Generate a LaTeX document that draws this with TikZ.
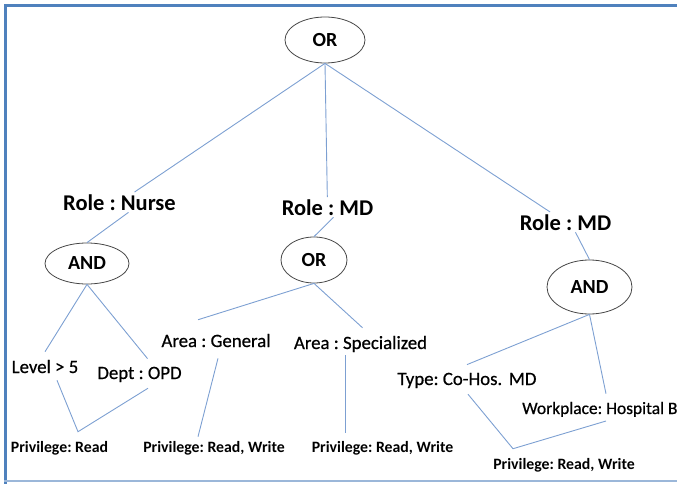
\documentclass[tikz,border=0pt]{standalone}
\usepackage{fontspec}
\setmainfont{Carlito}
\newfontfamily\attrfont[FakeBold=0.6]{Carlito}
\usetikzlibrary{shapes.geometric}
\definecolor{edgeblue}{RGB}{125,160,210}
\definecolor{frameblue}{RGB}{79,129,189}
\definecolor{framelight}{RGB}{155,183,217}
\definecolor{ovalline}{RGB}{70,70,70}
\frenchspacing
\begin{document}
\begin{tikzpicture}[x=1pt,y=-1pt,
  gate/.style={ellipse, draw=ovalline, line width=0.8pt, inner sep=0pt,
    font=\fontsize{20}{20}\selectfont\bfseries},
  role/.style={anchor=base, inner sep=2pt, font=\fontsize{22.5}{24}\selectfont\bfseries},
  attr/.style={anchor=base, inner sep=2pt, font=\attrfont\fontsize{18.8}{20}\selectfont},
  priv/.style={anchor=base, inner sep=2pt, font=\fontsize{15.8}{16}\selectfont\bfseries},
  link/.style={draw=edgeblue, line width=0.9pt},
]
\useasboundingbox (0,0) rectangle (677,484);
\clip (0,0) rectangle (677,484);

% outer frame
\draw[frameblue, line width=2.8pt] (5.5,484) -- (5.5,5.5) -- (690,5.5);
\draw[framelight, line width=1.5pt] (4,481) -- (690,481);

% gates
\node[gate, minimum width=80pt, minimum height=46pt] (or1) at (325,40) {OR};
\node[gate, minimum width=84pt, minimum height=41pt] (and1) at (87,263.5) {AND};
\node[gate, minimum width=66pt, minimum height=46pt] (or2) at (314,260) {OR};
\node[gate, minimum width=85pt, minimum height=54pt] (and2) at (589.5,287) {AND};

% roles
\node[role] (nurse) at (119.5,210) {Role : Nurse};
\node[role] (md1) at (327.5,215) {Role : MD};
\node[role] (md2) at (565.5,230) {Role : MD};

% attributes
\node[attr] (areaG) at (216,347) {Area : General};
\node[attr] (areaS) at (360.5,349) {Area : Specialized};
\node[attr] (lvl) at (45,373) {Level > 5};
\node[attr] (dept) at (139.5,379) {Dept : OPD};
\node[attr] (type) at (467,385) {Type: Co-Hos.\hspace{0.35em}MD};
\node[attr, anchor=base west, font=\attrfont\fontsize{17.4}{20}\selectfont] (work) at (520,414) {Workplace: Hospital B};

% privileges
\node[priv] (privR) at (59.5,452) {Privilege: Read};
\node[priv] (privG) at (214,452) {Privilege: Read, Write};
\node[priv] (privS) at (382.5,452) {Privilege: Read, Write};
\node[priv] (privW) at (564,469) {Privilege: Read, Write};

% joints above the privilege labels
\coordinate (vA) at ([xshift=18.5pt,yshift=7pt]privR.north);
\coordinate (vB) at ([xshift=-51pt,yshift=7pt]privW.north);

% connectors
\draw[link] (or1.south) -- (nurse);
\draw[link] (or1.south) -- (md1);
\draw[link] (or1.south) -- (md2);

\draw[link] ([xshift=9pt]nurse.south) -- (and1.north);
\draw[link] ([xshift=6pt]md1.south) -- (or2.north);
\draw[link] ([xshift=10pt]md2.south) -- (and2.north);

\draw[link] (and1.south) -- ([yshift=6pt]lvl.north);
\draw[link] (and1.south) -- ([xshift=8pt,yshift=6pt]dept.north);
\draw[link] (or2.south) -- ([xshift=-18pt,yshift=12pt]areaG.north);
\draw[link] (or2.south) -- ([xshift=2pt,yshift=6pt]areaS.north);
\draw[link] (and2.south) -- ([yshift=6pt]type.north);
\draw[link] (and2.south) -- ([xshift=86pt,yshift=6pt]work.north west);

\draw[link] ([xshift=12pt,yshift=-5pt]lvl.south) -- (vA) -- ([xshift=8.5pt,yshift=-4pt]dept.south);
\draw[link] ([xshift=2pt,yshift=-9pt]areaG.south) -- ([xshift=-16pt,yshift=2pt]privG.north);
\draw[link] ([xshift=-15.5pt,yshift=-1pt]areaS.south) -- ([xshift=-37.5pt,yshift=6pt]privS.north);
\draw[link] ([xshift=1pt,yshift=-4pt]type.south) -- (vB) -- ([xshift=86pt,yshift=-2pt]work.south west);
\end{tikzpicture}
\end{document}
